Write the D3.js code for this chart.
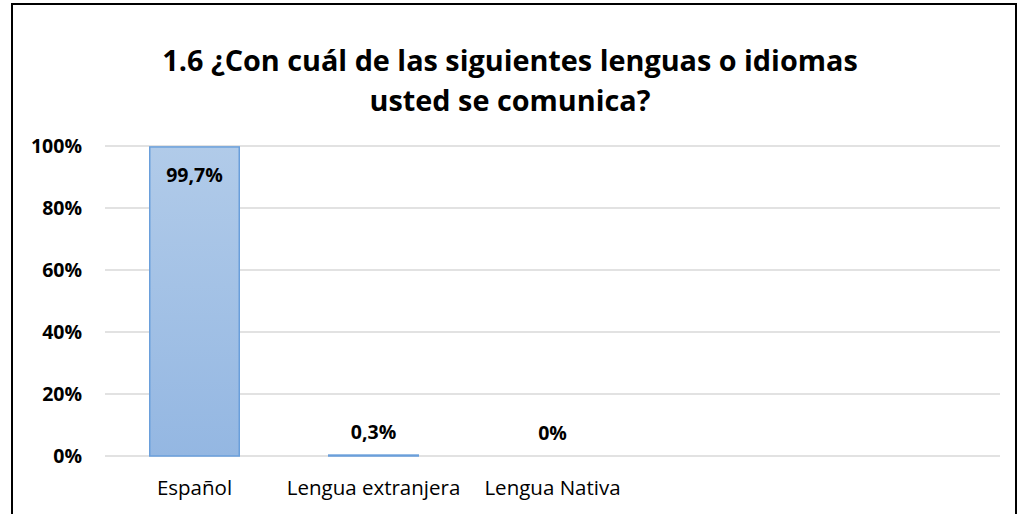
<!DOCTYPE html>
<html>
<head>
<meta charset="utf-8">
<script src="https://cdn.jsdelivr.net/npm/d3@7"></script>
<style>
  body { margin: 0; background: #fff; }
  svg { display: block; }
  text { font-family: "Open Sans", sans-serif; fill: #000; }
</style>
</head>
<body>
<div id="chart"></div>
<script>
// categories (the last two slots are empty in the original chart)
var categories = ["Español", "Lengua extranjera", "Lengua Nativa", "", ""];
var values = [99.7, 0.3, 0, null, null];
var valueLabels = ["99,7%", "0,3%", "0%", "", ""];
var yTicks = [0, 20, 40, 60, 80, 100];
var titleLines = ["1.6 ¿Con cuál de las siguientes lenguas o idiomas", "usted se comunica?"];

var W = 1020, H = 514;
var margin = {top: 146, right: 20, bottom: 58, left: 105};
var width = W - margin.left - margin.right,
    height = H - margin.top - margin.bottom;

var svg = d3.select("#chart").append("svg")
  .attr("width", W)
  .attr("height", H);

var defs = svg.append("defs");
var grad = defs.append("linearGradient")
  .attr("id", "barGrad")
  .attr("x1", 0).attr("y1", 0).attr("x2", 0).attr("y2", 1);
grad.append("stop").attr("offset", "0%").attr("stop-color", "#b1cbe9");
grad.append("stop").attr("offset", "100%").attr("stop-color", "#94b7e2");

// outer frame
svg.append("rect")
  .attr("x", 12).attr("y", 4)
  .attr("width", 1004).attr("height", 530)
  .attr("fill", "none")
  .attr("stroke", "#000")
  .attr("stroke-width", 2);

// title
svg.append("g").selectAll("text")
  .data(titleLines)
  .enter().append("text")
  .attr("x", 510)
  .attr("y", function(d, i) { return 71 + i * 40; })
  .attr("text-anchor", "middle")
  .style("font-size", "28.8px")
  .style("font-weight", "bold")
  .text(function(d) { return d; });

var g = svg.append("g")
  .attr("transform", "translate(" + margin.left + "," + margin.top + ")");

var xScale = d3.scaleBand()
  .domain(d3.range(categories.length))
  .range([0, width])
  .paddingInner(0.5)
  .paddingOuter(0.25);

var yScale = d3.scaleLinear()
  .domain([0, 100])
  .range([height, 0]);

// gridlines
g.append("g").selectAll("line")
  .data(yTicks)
  .enter().append("line")
  .attr("x1", 0).attr("x2", width)
  .attr("y1", function(d) { return yScale(d); })
  .attr("y2", function(d) { return yScale(d); })
  .attr("stroke", "#d9d9d9")
  .attr("stroke-width", 1.5);

// y axis labels
var yAxis = d3.axisLeft(yScale)
  .tickValues(yTicks)
  .tickFormat(function(d) { return d + "%"; })
  .tickSize(0)
  .tickPadding(23);
var yg = g.append("g").call(yAxis);
yg.select(".domain").remove();
yg.selectAll("text")
  .style("font-size", "19.5px")
  .style("font-weight", "bold")
  .style("font-family", "'Open Sans', sans-serif");

// x axis labels
var xAxis = d3.axisBottom(xScale)
  .tickFormat(function(i) { return categories[i]; })
  .tickSize(0)
  .tickPadding(24);
var xg = g.append("g")
  .attr("transform", "translate(0," + height + ")")
  .call(xAxis);
xg.select(".domain").remove();
xg.selectAll("text")
  .style("font-size", "20.5px")
  .style("font-family", "'Open Sans', sans-serif");

// bars
var idx = d3.range(categories.length).filter(function(i) { return values[i] !== null; });

g.selectAll(".bar")
  .data(idx)
  .enter().append("rect")
  .attr("class", "bar")
  .attr("x", function(i) { return xScale(i); })
  .attr("y", function(i) { return yScale(values[i]); })
  .attr("width", xScale.bandwidth())
  .attr("height", function(i) { return yScale(0) - yScale(values[i]); })
  .attr("fill", "url(#barGrad)")
  .attr("stroke", function(i) { return values[i] > 0 ? "#6a9fdb" : "none"; })
  .attr("stroke-width", 1.5);

// value labels
g.selectAll(".vlabel")
  .data(idx)
  .enter().append("text")
  .attr("class", "vlabel")
  .attr("x", function(i) { return xScale(i) + xScale.bandwidth() / 2; })
  .attr("y", function(i) {
    var v = values[i];
    return v > 50 ? yScale(v) + 35 : yScale(v) - 16;
  })
  .attr("text-anchor", "middle")
  .style("font-size", "19.5px")
  .style("font-weight", "bold")
  .text(function(i) { return valueLabels[i]; });
</script>
</body>
</html>
